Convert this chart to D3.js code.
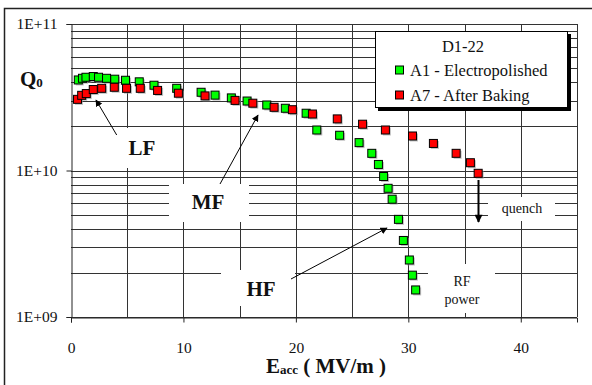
<!DOCTYPE html>
<html lang='en'>
  <head>
    <meta charset='utf-8'>
    <title>Q0 vs Eacc</title>
    <script type='text/javascript' src='https://cdn.jsdelivr.net/npm/d3@7/dist/d3.min.js'></script>
    <style>
      body { margin: 0; background: #fff; }
    </style>
  </head>
  <body>
    <script type='text/javascript'>

      // A1 - Electropolished (green)
      var a1Eacc = [0.65, 1.02, 1.33, 1.98, 2.45, 3.16, 3.89, 4.85, 6.07, 7.38, 9.40,
                    11.57, 12.81, 14.26, 15.66, 17.41, 19.06, 20.91, 21.86, 23.89,
                    25.62, 26.75, 27.34, 27.80, 28.20, 28.56, 29.12, 29.56, 30.09,
                    30.36, 30.65];
      var a1Q0 = [4.15e10, 4.26e10, 4.33e10, 4.38e10, 4.33e10, 4.26e10, 4.20e10, 4.13e10,
                  4.03e10, 3.82e10, 3.64e10, 3.42e10, 3.27e10, 3.13e10, 2.98e10, 2.80e10,
                  2.66e10, 2.46e10, 1.89e10, 1.74e10, 1.55e10, 1.31e10, 1.10e10, 9.1e9,
                  7.56e9, 6.37e9, 4.64e9, 3.33e9, 2.45e9, 1.93e9, 1.53e9];

      // A7 - After Baking (red)
      var a7Eacc = [0.58, 0.95, 1.36, 1.98, 2.73, 3.85, 4.94, 6.16, 7.70, 9.55, 11.92,
                    14.59, 16.17, 18.06, 19.69, 21.47, 23.68, 25.93, 27.96, 30.37,
                    32.23, 34.25, 35.52, 36.21];
      var a7Q0 = [3.06e10, 3.26e10, 3.35e10, 3.57e10, 3.64e10, 3.70e10, 3.64e10, 3.64e10,
                  3.52e10, 3.37e10, 3.23e10, 3.01e10, 2.88e10, 2.70e10, 2.60e10, 2.43e10,
                  2.25e10, 2.07e10, 1.89e10, 1.72e10, 1.53e10, 1.31e10, 1.13e10, 9.57e9];

      var xTicks = [0, 10, 20, 30, 40];
      var xGrid = [5, 10, 15, 20, 25, 30, 35, 40, 45];
      var yTicks = [1e9, 1e10, 1e11];
      var yTickLabels = ['1E+09', '1E+10', '1E+11'];
      var legendTitle = 'D1-22';
      var seriesNames = ['A1 - Electropolished', 'A7 - After Baking'];
      var seriesColors = ['#00ff00', '#ff0000'];

      var w = 592;
      var h = 385;
      var serif = 'Liberation Serif';

      var svg = d3.select('body')
                  .append('svg')
                  .attr('width', w)
                  .attr('height', h);

      var xScale = d3.scaleLinear().domain([0, 45]).range([71, 577]);
      var yScale = d3.scaleLog().domain([1e9, 1e11]).range([317, 24]);

      // outer frame (runs off the right and bottom edges)
      svg.append('rect')
         .attr('x', 4.5).attr('y', 8.5)
         .attr('width', 600).attr('height', 390)
         .attr('fill', 'none').attr('stroke', '#222').attr('stroke-width', 1.5);

      var grid = svg.append('g')
                    .attr('stroke', '#333')
                    .attr('stroke-width', 1)
                    .attr('shape-rendering', 'crispEdges');

      // horizontal grid: every 1..9 of each decade
      var hLines = [];
      [1e9, 1e10].forEach(function(dec){
        for (var k = 1; k <= 10; k++) hLines.push(dec * k);
      });
      grid.selectAll('line.h')
          .data(hLines)
          .enter()
          .append('line')
          .attr('x1', xScale(0)).attr('x2', xScale(45))
          .attr('y1', function(d){ return Math.round(yScale(d)) + 0.5; })
          .attr('y2', function(d){ return Math.round(yScale(d)) + 0.5; });

      grid.selectAll('line.v')
          .data(xGrid)
          .enter()
          .append('line')
          .attr('x1', function(d){ return Math.round(xScale(d)) + 0.5; })
          .attr('x2', function(d){ return Math.round(xScale(d)) + 0.5; })
          .attr('y1', yScale(1e11)).attr('y2', yScale(1e9));

      // axes
      var xAxis = d3.axisBottom(xScale).tickValues(xTicks).tickSize(5).tickPadding(19);
      var gx = svg.append('g')
                  .attr('transform', 'translate(0,' + (Math.round(yScale(1e9)) + 0.5) + ')')
                  .call(xAxis)
                  .attr('font-family', serif).attr('font-size', 15.5);
      gx.select('.domain').attr('stroke', '#222');
      gx.selectAll('.tick line').attr('stroke', '#222');
      gx.selectAll('.tick text').attr('fill', '#111').attr('font-family', serif);

      var yAxis = d3.axisLeft(yScale).tickValues(yTicks)
                    .tickFormat(function(d, i){ return yTickLabels[i]; })
                    .tickSize(5).tickPadding(9);
      var gy = svg.append('g')
                  .attr('transform', 'translate(' + (Math.round(xScale(0)) + 0.5) + ',0)')
                  .call(yAxis)
                  .attr('font-family', serif).attr('font-size', 15.5);
      gy.select('.domain').attr('stroke', '#222');
      gy.selectAll('.tick line').attr('stroke', '#222');
      gy.selectAll('.tick text').attr('fill', '#111').attr('font-family', serif);

      // white label boxes that cover the grid
      var boxes = [
        [110, 128, 73, 40],   // LF
        [169, 184, 80, 38],   // MF
        [221, 270, 74, 36],   // HF
        [488, 197, 67, 24],   // quench
        [428, 264, 67, 49]    // RF power
      ];
      svg.selectAll('rect.box')
         .data(boxes)
         .enter()
         .append('rect')
         .attr('x', function(d){ return d[0]; })
         .attr('y', function(d){ return d[1]; })
         .attr('width', function(d){ return d[2]; })
         .attr('height', function(d){ return d[3]; })
         .attr('fill', '#fff');

      // markers
      function drawSeries(xs, ys, color){
        var pts = xs.map(function(x, i){ return [x, ys[i]]; });
        var g = svg.append('g');
        g.selectAll('rect.shadow')
         .data(pts)
         .enter()
         .append('rect')
         .attr('x', function(d){ return xScale(d[0]) - 4 + 1.5; })
         .attr('y', function(d){ return yScale(d[1]) - 4 + 1.5; })
         .attr('width', 8).attr('height', 8)
         .attr('fill', '#999').attr('opacity', 0.6);
        g.selectAll('rect.mk')
         .data(pts)
         .enter()
         .append('rect')
         .attr('x', function(d){ return xScale(d[0]) - 4; })
         .attr('y', function(d){ return yScale(d[1]) - 4; })
         .attr('width', 8).attr('height', 8)
         .attr('fill', color)
         .attr('stroke', '#000').attr('stroke-width', 1);
      }
      drawSeries(a1Eacc, a1Q0, seriesColors[0]);
      drawSeries(a7Eacc, a7Q0, seriesColors[1]);

      // legend
      var lg = svg.append('g');
      lg.append('rect').attr('x', 378).attr('y', 34).attr('width', 193).attr('height', 77).attr('fill', '#000');
      lg.append('rect').attr('x', 375.5).attr('y', 31.5).attr('width', 192).attr('height', 76)
        .attr('fill', '#fff').attr('stroke', '#000').attr('stroke-width', 1);
      lg.append('text').attr('x', 463).attr('y', 52).attr('text-anchor', 'middle')
        .attr('font-family', serif).attr('font-size', '16.5px').attr('fill', '#111').text(legendTitle);
      seriesNames.forEach(function(name, i){
        var cy = 70 + i * 25;
        lg.append('rect').attr('x', 395.5).attr('y', cy - 4).attr('width', 8).attr('height', 8)
          .attr('fill', seriesColors[i]).attr('stroke', '#000').attr('stroke-width', 1);
        lg.append('text').attr('x', 410).attr('y', cy + 5.5)
          .attr('font-family', serif).attr('font-size', '16.5px').attr('fill', '#111').text(name);
      });

      // arrows
      var defs = svg.append('defs');
      defs.append('marker')
          .attr('id', 'ah')
          .attr('viewBox', '0 0 10 10')
          .attr('refX', 9).attr('refY', 5)
          .attr('markerWidth', 7).attr('markerHeight', 7)
          .attr('markerUnits', 'userSpaceOnUse')
          .attr('orient', 'auto')
          .append('path').attr('d', 'M0,0 L10,5 L0,10 z').attr('fill', '#000');
      defs.append('marker')
          .attr('id', 'ahq')
          .attr('viewBox', '0 0 10 10')
          .attr('refX', 9).attr('refY', 5)
          .attr('markerWidth', 9).attr('markerHeight', 8)
          .attr('markerUnits', 'userSpaceOnUse')
          .attr('orient', 'auto')
          .append('path').attr('d', 'M0,0 L10,5 L0,10 z').attr('fill', '#000');

      var arrows = [
        [116.7, 135, 96, 100],
        [220, 184, 258, 115],
        [291, 279, 387, 228]
      ];
      svg.selectAll('line.arrow')
         .data(arrows)
         .enter()
         .append('line')
         .attr('x1', function(d){ return d[0]; })
         .attr('y1', function(d){ return d[1]; })
         .attr('x2', function(d){ return d[2]; })
         .attr('y2', function(d){ return d[3]; })
         .attr('stroke', '#000').attr('stroke-width', 1)
         .attr('marker-end', 'url(#ah)');

      svg.append('line')
         .attr('x1', 478.5).attr('y1', 180).attr('x2', 478.5).attr('y2', 222)
         .attr('stroke', '#000').attr('stroke-width', 2)
         .attr('marker-end', 'url(#ahq)');

      // annotation labels
      var bold = [['LF', 142, 155], ['MF', 208, 209], ['HF', 261, 296]];
      bold.forEach(function(b){
        svg.append('text').attr('x', b[1]).attr('y', b[2]).attr('text-anchor', 'middle')
           .attr('font-family', serif)
           .attr('font-size', '21px').attr('font-weight', 'bold').attr('fill', '#111').text(b[0]);
      });
      svg.append('text').attr('x', 522).attr('y', 213).attr('text-anchor', 'middle')
         .attr('font-family', serif).attr('font-size', '14px').attr('fill', '#111').text('quench');
      svg.append('text').attr('x', 462).attr('y', 286).attr('text-anchor', 'middle')
         .attr('font-family', serif).attr('font-size', '14px').attr('fill', '#111').text('RF');
      svg.append('text').attr('x', 462).attr('y', 304).attr('text-anchor', 'middle')
         .attr('font-family', serif).attr('font-size', '14px').attr('fill', '#111').text('power');

      // axis titles
      var q = svg.append('text').attr('x', 20).attr('y', 86)
                 .attr('font-family', serif)
                 .attr('font-size', '21px').attr('font-weight', 'bold').attr('fill', '#111');
      q.append('tspan').text('Q');
      q.append('tspan').attr('font-size', '13px').attr('dy', 1).text('0');

      var xl = svg.append('text').attr('x', 326).attr('y', 373).attr('text-anchor', 'middle')
                  .attr('font-family', serif)
                  .attr('font-size', '21px').attr('font-weight', 'bold').attr('fill', '#111');
      xl.append('tspan').text('E');
      xl.append('tspan').attr('font-size', '13px').attr('dy', 1).text('acc');
      xl.append('tspan').attr('dy', -1).text(' ( MV/m )');

    </script>
  </body>
</html>
